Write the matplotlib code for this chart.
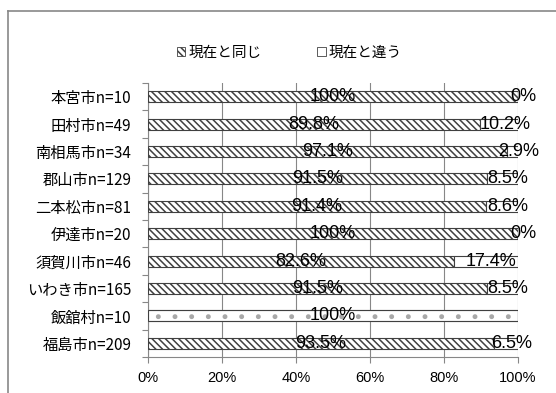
import numpy as np
import matplotlib
matplotlib.use('Agg')
import matplotlib.pyplot as plt
from matplotlib.patches import Patch
from matplotlib.lines import Line2D
from matplotlib.ticker import PercentFormatter

# data, top row first
areas = ['本宮市n=10', '田村市n=49', '南相馬市n=34', '郡山市n=129', '二本松市n=81',
         '伊達市n=20', '須賀川市n=46', 'いわき市n=165', '飯舘村n=10', '福島市n=209']
same_pct = [100, 89.8, 97.1, 91.5, 91.4, 100, 82.6, 91.5, 100, 93.5]
diff_pct = [0, 10.2, 2.9, 8.5, 8.6, 0, 17.4, 8.5, 0, 6.5]
same_lbl = ['100%', '89.8%', '97.1%', '91.5%', '91.4%', '100%', '82.6%', '91.5%', '100%', '93.5%']
diff_lbl = ['0%', '10.2%', '2.9%', '8.5%', '8.6%', '0%', '17.4%', '8.5%', '', '6.5%']
series_names = ['現在と同じ', '現在と違う']

jp = ['Noto Sans CJK JP', 'DejaVu Sans']
num = ['Liberation Sans', 'DejaVu Sans']
plt.rcParams['hatch.linewidth'] = 1.1

fig = plt.figure(figsize=(5.56, 3.93), dpi=100)
ax = fig.add_axes([148 / 556, 1 - 357 / 393, 370 / 556, 274 / 393])

y = np.arange(len(areas))
same = np.array(same_pct) / 100.0
diff = np.array(diff_pct) / 100.0
edge = '#404040'

for i in range(len(areas)):
    if areas[i].startswith('飯舘村'):
        ax.barh(y[i], same[i], height=0.4, color='white', edgecolor='#a8a8a8',
                hatch='.', linewidth=0.8, zorder=3)
        # keep the bar outline dark like the others
        ax.barh(y[i], same[i], height=0.4, color='none', edgecolor=edge,
                linewidth=0.8, zorder=3)
    else:
        ax.barh(y[i], same[i], height=0.4, color='white', edgecolor=edge,
                hatch='\\' * 5, linewidth=0.8, zorder=3)
    ax.barh(y[i], diff[i], left=same[i], height=0.4, color='white',
            edgecolor=edge, linewidth=0.8, zorder=3)
    ax.text(same[i] / 2, y[i], same_lbl[i], ha='center', va='center',
            fontsize=13, family=num, color='black', zorder=5)
    if diff_lbl[i]:
        ax.text(same[i] + diff[i] / 2 + 0.015, y[i], diff_lbl[i], ha='center',
                va='center', fontsize=13, family=num, color='black', zorder=5)

ax.set_xlim(0, 1)
ax.set_ylim(len(areas) - 0.5, -0.5)
ax.set_xticks(np.arange(0, 1.01, 0.2))
ax.xaxis.set_major_formatter(PercentFormatter(1.0, decimals=0))
for t in ax.get_xticklabels():
    t.set_family(num)
    t.set_fontsize(10.5)

ax.set_yticks(np.arange(-0.5, len(areas), 1.0))
ax.set_yticklabels([])
ax.set_yticks(y, minor=True)
ax.set_yticklabels(areas, minor=True, family=jp, fontsize=11)
ax.tick_params(axis='y', which='minor', length=0, pad=12)
ax.tick_params(axis='y', which='major', length=4, color='#878787')
ax.tick_params(axis='x', length=4, color='#878787', pad=6)

ax.grid(axis='x', color='#878787', linewidth=0.8, zorder=0)
for s in ['top', 'right']:
    ax.spines[s].set_visible(False)
for s in ['left', 'bottom']:
    ax.spines[s].set_color('#878787')

handles = [Patch(facecolor='white', edgecolor=edge, hatch='\\' * 5, linewidth=0.6),
           Patch(facecolor='white', edgecolor=edge, linewidth=0.6)]
fig.legend(handles, series_names, loc='center', bbox_to_anchor=(0.52, 1 - 53 / 393),
           ncol=2, frameon=False, prop={'family': jp, 'size': 10.5},
           handlelength=0.6, handleheight=0.6, handletextpad=0.2, columnspacing=3.8)

# outer chart frame (clipped by the image edge)
fig.add_artist(Line2D([8 / 556, 1], [1 - 11 / 393, 1 - 11 / 393], transform=fig.transFigure,
                      color='#878787', linewidth=1.2))
fig.add_artist(Line2D([8 / 556, 8 / 556], [0, 1 - 11 / 393], transform=fig.transFigure,
                      color='#878787', linewidth=1.2))

fig.savefig('out.png', dpi=100)
